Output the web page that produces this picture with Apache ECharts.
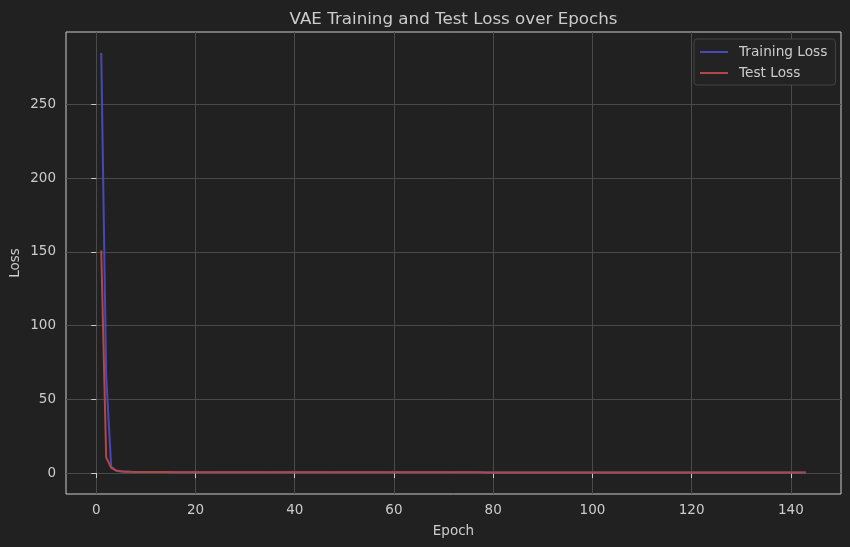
<!DOCTYPE html>
<html>
<head>
<meta charset="utf-8">
<script src="https://cdn.jsdelivr.net/npm/echarts@6/dist/echarts.min.js"></script>
<style>
html,body{margin:0;padding:0;background:#212121;}
#chart{width:850px;height:547px;}
</style>
</head>
<body>
<div id="chart"></div>
<script>
var titleText = 'VAE Training and Test Loss over Epochs';
var xTicks = [0, 20, 40, 60, 80, 100, 120, 140];
var yTicks = [0, 50, 100, 150, 200, 250];

var trainLoss = [
  285.0, 66.0, 4.5, 1.6, 1.1, 0.92, 0.84, 0.78, 0.74, 0.71,
  0.69, 0.67, 0.66, 0.65, 0.64, 0.63, 0.62, 0.62, 0.61, 0.60,
  0.60, 0.59, 0.59, 0.58, 0.58, 0.57, 0.57, 0.57, 0.56, 0.56,
  0.56, 0.55, 0.55, 0.55, 0.54, 0.54, 0.54, 0.54, 0.53, 0.53,
  0.53, 0.53, 0.52, 0.52, 0.52, 0.52, 0.52, 0.51, 0.51, 0.51,
  0.51, 0.51, 0.50, 0.50, 0.50, 0.50, 0.50, 0.50, 0.49, 0.49,
  0.49, 0.49, 0.49, 0.49, 0.48, 0.48, 0.48, 0.48, 0.48, 0.48,
  0.48, 0.47, 0.47, 0.47, 0.47, 0.47, 0.47, 0.47, 0.46, 0.46,
  0.46, 0.46, 0.46, 0.46, 0.46, 0.46, 0.45, 0.45, 0.45, 0.45,
  0.45, 0.45, 0.45, 0.45, 0.45, 0.44, 0.44, 0.44, 0.44, 0.44,
  0.44, 0.44, 0.44, 0.44, 0.43, 0.43, 0.43, 0.43, 0.43, 0.43,
  0.43, 0.43, 0.43, 0.43, 0.42, 0.42, 0.42, 0.42, 0.42, 0.42,
  0.42, 0.42, 0.42, 0.42, 0.42, 0.41, 0.41, 0.41, 0.41, 0.41,
  0.41, 0.41, 0.41, 0.41, 0.41, 0.41, 0.40, 0.40, 0.40, 0.40,
  0.40, 0.40, 0.40
];

var testLoss = [
  151.0, 10.6, 3.6, 1.8, 1.2, 0.95, 0.85, 0.78, 0.73, 0.70,
  0.68, 0.66, 0.65, 0.64, 0.63, 0.62, 0.61, 0.61, 0.60, 0.60,
  0.59, 0.59, 0.58, 0.58, 0.57, 0.57, 0.57, 0.56, 0.56, 0.56,
  0.55, 0.55, 0.55, 0.54, 0.54, 0.54, 0.54, 0.53, 0.53, 0.53,
  0.53, 0.52, 0.52, 0.52, 0.52, 0.52, 0.51, 0.51, 0.51, 0.51,
  0.51, 0.50, 0.50, 0.50, 0.50, 0.50, 0.50, 0.49, 0.49, 0.49,
  0.49, 0.49, 0.49, 0.48, 0.48, 0.48, 0.48, 0.48, 0.48, 0.48,
  0.47, 0.47, 0.47, 0.47, 0.47, 0.47, 0.47, 0.46, 0.46, 0.46,
  0.46, 0.46, 0.46, 0.46, 0.46, 0.45, 0.45, 0.45, 0.45, 0.45,
  0.45, 0.45, 0.45, 0.45, 0.44, 0.44, 0.44, 0.44, 0.44, 0.44,
  0.44, 0.44, 0.44, 0.43, 0.43, 0.43, 0.43, 0.43, 0.43, 0.43,
  0.43, 0.43, 0.43, 0.42, 0.42, 0.42, 0.42, 0.42, 0.42, 0.42,
  0.42, 0.42, 0.42, 0.42, 0.41, 0.41, 0.41, 0.41, 0.41, 0.41,
  0.41, 0.41, 0.41, 0.41, 0.41, 0.40, 0.40, 0.40, 0.40, 0.40,
  0.40, 0.40, 0.40
];

var FONT = 'DejaVu Sans';
var textColor = '#cccccc';
var gridColor = '#4a4a4a';

var chart = echarts.init(document.getElementById('chart'), null, {renderer: 'canvas'});

function pairs(arr) { return arr.map(function (v, i) { return [i + 1, v]; }); }

chart.setOption({
  backgroundColor: '#212121',
  animation: false,
  title: {
    text: titleText,
    left: 448.5,
    top: 6,
    textAlign: 'center',
    textStyle: {color: textColor, fontFamily: FONT, fontSize: 16.7, fontWeight: 'normal'}
  },
  legend: {
    orient: 'vertical',
    left: 694,
    top: 39,
    padding: [6, 8, 5, 6],
    itemGap: 7,
    itemWidth: 28,
    itemHeight: 2,
    icon: 'rect',
    borderColor: '#454545',
    borderWidth: 1,
    borderRadius: 3,
    backgroundColor: '#232323',
    textStyle: {color: textColor, fontFamily: FONT, fontSize: 13.7, padding: [0, 0, 0, 6]},
    data: ['Training Loss', 'Test Loss']
  },
  grid: {
    left: 66, right: 9, top: 32, bottom: 53,
    show: true, borderColor: '#cccccc', borderWidth: 1, backgroundColor: 'transparent',
    containLabel: false, outerBoundsMode: 'none'
  },
  xAxis: {
    type: 'value',
    min: -6.1, max: 150.1,
    name: 'Epoch',
    nameLocation: 'middle',
    nameGap: 30,
    nameMoveOverlap: false,
    nameTextStyle: {color: textColor, fontFamily: FONT, fontSize: 13.5},
    axisLine: {show: false},
    axisTick: {show: true, length: 5, customValues: xTicks, lineStyle: {color: '#cccccc'}},
    axisLabel: {color: textColor, fontFamily: FONT, fontSize: 13.5, margin: 9, customValues: xTicks},
    splitLine: {show: true, lineStyle: {color: gridColor, width: 1}}
  },
  yAxis: {
    type: 'value',
    min: -14.2, max: 299.2,
    name: 'Loss',
    nameLocation: 'middle',
    nameGap: 44,
    nameMoveOverlap: false,
    nameTextStyle: {color: textColor, fontFamily: FONT, fontSize: 13.5},
    axisLine: {show: false},
    axisTick: {show: true, length: 5, customValues: yTicks, lineStyle: {color: '#cccccc'}},
    axisLabel: {color: textColor, fontFamily: FONT, fontSize: 13.5, margin: 10, customValues: yTicks},
    splitLine: {show: true, lineStyle: {color: gridColor, width: 1}}
  },
  series: [
    {
      name: 'Training Loss', type: 'line', showSymbol: false, symbol: 'none',
      data: pairs(trainLoss),
      itemStyle: {color: '#4848b8'},
      lineStyle: {color: '#4848b8', width: 2}
    },
    {
      name: 'Test Loss', type: 'line', showSymbol: false, symbol: 'none',
      data: pairs(testLoss),
      itemStyle: {color: '#b04848'},
      lineStyle: {color: '#b04848', width: 2}
    }
  ]
});
</script>
</body>
</html>
